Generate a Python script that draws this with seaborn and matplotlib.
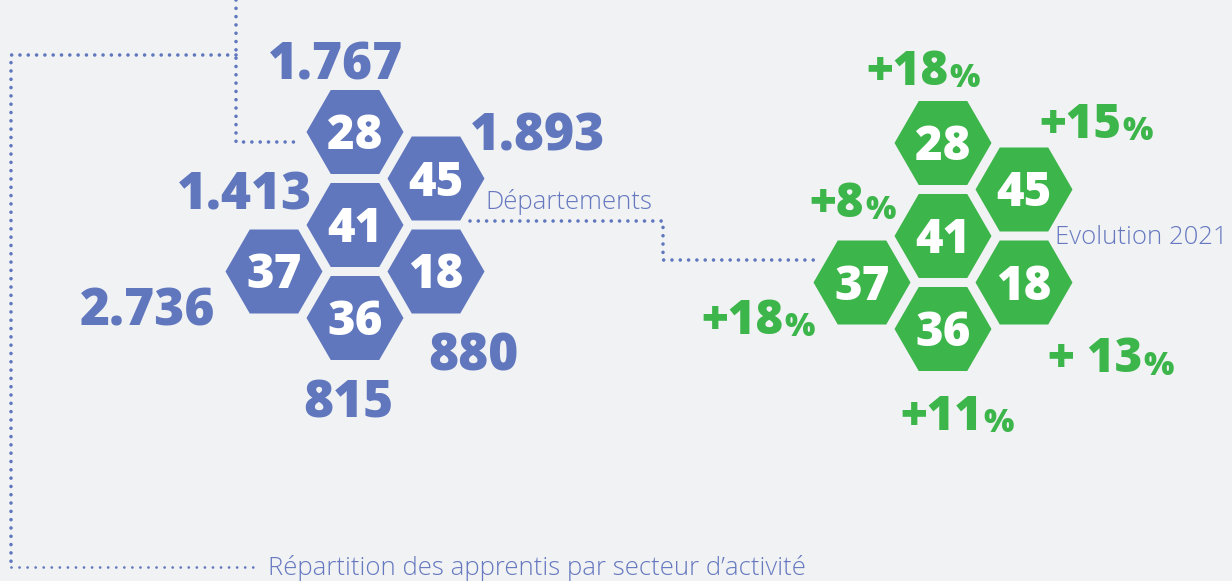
import pandas as pd
import matplotlib.pyplot as plt
import seaborn as sns

# --- data ---
departements = ['28', '45', '41', '37', '18', '36']
apprentis = ['1.767', '1.893', '1.413', '2.736', '880', '815']
evolution = ['+18', '+15', '+8', '+18', '+ 13', '+11']

# --- layout (hex grid: col step 81px, row step 46.5px) ---
grid_col = [0, 1, 0, -1, 1, 0]
grid_row = [0, 1, 2, 3, 3, 4]
blue_origin = (355, 132)
green_origin = (943, 143)
# label offsets (dx, baseline dy) from each hex centre
blue_lbl_dx = [-19, 102, -110, -126, 37, -7]
blue_lbl_dy = [-52, -28, -15, 54, 99, 100]
green_lbl_dx = [-36, 56, -106, -120, 71, -2]
green_lbl_dy = [-58, -52, -19, 51, 90, 101]

BLUE = '#6077be'
GREEN = '#3cb54a'
BG = '#f1f2f4'

sns.set_theme(style='white')
plt.rcParams['font.family'] = ['Open Sans', 'DejaVu Sans']

df = pd.DataFrame({'dep': departements, 'val': apprentis, 'evo': evolution,
                   'col': grid_col, 'row': grid_row})
df['bx'] = blue_origin[0] + df['col'] * 81
df['by'] = blue_origin[1] + df['row'] * 46.5
df['gx'] = green_origin[0] + df['col'] * 81
df['gy'] = green_origin[1] + df['row'] * 46.5

fig = plt.figure(figsize=(12.32, 5.81), dpi=100)
fig.patch.set_facecolor(BG)
ax = fig.add_axes([0, 0, 1, 1])
ax.set_facecolor(BG)

# hexagons (flat top marker 'H'), circumradius ~48.5px
hex_s = (48.5 * 72 / 100 * 2) ** 2
sns.scatterplot(data=df, x='bx', y='by', marker='H', s=hex_s, color=BLUE,
                edgecolor='none', linewidth=0, legend=False, ax=ax)
sns.scatterplot(data=df, x='gx', y='gy', marker='H', s=hex_s, color=GREEN,
                edgecolor='none', linewidth=0, legend=False, ax=ax)

heavy = 'extra bold'
for i, r in df.iterrows():
    ax.text(r['bx'], r['by'] + 17, r['dep'], ha='center', va='baseline',
            color='white', fontsize=34, fontweight=heavy)
    ax.text(r['gx'], r['gy'] + 17, r['dep'], ha='center', va='baseline',
            color='white', fontsize=34, fontweight=heavy)
    ax.text(r['bx'] + blue_lbl_dx[i], r['by'] + blue_lbl_dy[i], r['val'],
            ha='center', va='baseline', color=BLUE, fontsize=37, fontweight=heavy)
    t = ax.text(r['gx'] + green_lbl_dx[i], r['gy'] + green_lbl_dy[i], r['evo'],
                ha='center', va='baseline', color=GREEN, fontsize=34, fontweight=heavy)
    ax.annotate('%', xy=(1, 0.2), xycoords=t, xytext=(1, 0), textcoords='offset points',
                ha='left', va='baseline', color=GREEN, fontsize=23, fontweight=heavy)

# dotted connectors
dot = dict(color=BLUE, linewidth=2.6, linestyle=(0, (0.001, 2.3)),
           dash_capstyle='round', solid_capstyle='round')
connectors = [
    ([236, 236, 301], [0, 142, 142]),
    ([236, 11, 11], [55, 55, 567]),
    ([470, 663, 663, 814], [221, 221, 260, 260]),
]
for xs, ys in connectors:
    ax.plot(xs, ys, **dot)
# finer dots along the bottom
ax.plot([11, 256], [567, 567], color=BLUE, linewidth=2.0,
        linestyle=(0, (0.001, 2.9)), dash_capstyle='round')

small = dict(color='#6679c0', fontsize=18.5, fontweight='light', va='baseline')
ax.text(485, 209, 'Départements', ha='left', **small)
ax.text(1228, 244, 'Evolution 2021', ha='right', **small)
ax.text(268, 575, 'Répartition des apprentis par secteur d\u2019activité', ha='left', **small)

ax.set_xlim(0, 1232)
ax.set_ylim(581, 0)
ax.axis('off')

fig.savefig('out.png', dpi=100, facecolor=fig.get_facecolor())
